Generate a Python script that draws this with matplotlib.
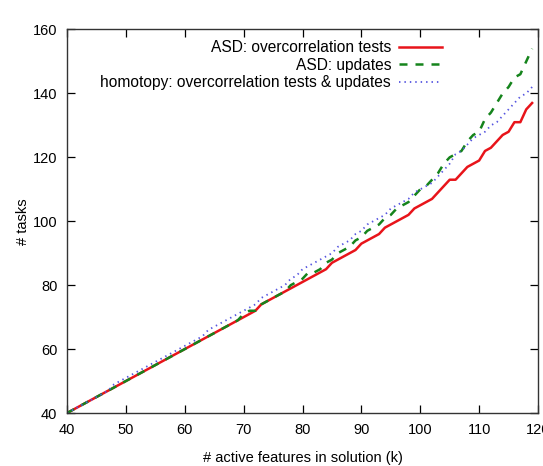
import matplotlib
matplotlib.use("Agg")
import matplotlib.pyplot as plt

plt.rcParams.update({
    "font.family": ["Liberation Sans", "DejaVu Sans"],
    "font.size": 10.5,
})

# number of active features k
k = list(range(40, 120))

# ASD: overcorrelation tests
asd_tests = [40, 41, 42, 43, 44, 45, 46, 47, 48, 49,
             50, 51, 52, 53, 54, 55, 56, 57, 58, 59,
             60, 61, 62, 63, 64, 65, 66, 67, 68, 69,
             70, 71, 72, 74, 75, 76, 77, 78, 79, 80,
             81, 82, 83, 84, 85, 87, 88, 89, 90, 91,
             93, 94, 95, 96, 98, 99, 100, 101, 102, 104,
             105, 106, 107, 109, 111, 113, 113, 115, 117, 118,
             119, 122, 123, 125, 127, 128, 131, 131, 135, 137]

# ASD: updates
asd_updates = [40, 41, 42, 43, 44, 45, 46, 47, 48, 49,
               50, 51, 52, 53, 54, 55, 56, 57, 58, 59,
               60, 61, 62, 63, 64, 65, 66, 67, 68, 69,
               71, 72, 72, 74, 75, 76, 77, 78, 80, 81,
               82, 84, 84, 85, 87, 88, 90, 91, 92, 94,
               95, 97, 98, 99, 101, 102, 104, 105, 106, 108,
               110, 111, 113, 115, 118, 120, 121, 122, 125, 127,
               128, 132, 134, 137, 140, 142, 145, 146, 150, 154]

# homotopy: overcorrelation tests & updates
homotopy = [40, 41, 42, 43, 44, 45, 46, 47, 49, 50,
            51, 52, 53, 54, 55, 56, 57, 58, 59, 60,
            61, 62, 63, 64, 66, 67, 68, 69, 70, 71,
            72, 73, 74, 76, 77, 78, 79, 80, 82, 83,
            85, 86, 87, 88, 89, 90, 92, 93, 94, 96,
            97, 99, 100, 101, 102, 104, 105, 106, 107, 109,
            110, 111, 112, 114, 116, 118, 121, 122, 124, 126,
            127, 128, 130, 131, 133, 135, 137, 139, 140, 142]

fig = plt.figure(figsize=(5.43, 4.66), dpi=100)
ax = fig.add_axes([0.1234, 0.1137, 0.8674, 0.823])

ax.plot(k, asd_tests, color="#e8141a", lw=1.8, label="ASD: overcorrelation tests")
ax.plot(k, asd_updates, color="#15841c", lw=1.8, ls=(0, (3.2, 3.2)), label="ASD: updates")
ax.plot(k, homotopy, color="#5555e0", lw=1.3, ls=(0, (0.8, 2.2)),
        label="homotopy: overcorrelation tests & updates")

ax.set_xlim(40, 120)
ax.set_ylim(40, 160)
ax.set_xticks(range(40, 121, 10))
ax.set_yticks(range(40, 161, 20))
ax.tick_params(direction="in", top=True, right=True, length=6, width=0.9, pad=7)
for s in ax.spines.values():
    s.set_linewidth(1.0)
    s.set_color("#333333")

ax.set_xlabel("# active features in solution (k)", labelpad=10)
ax.set_ylabel("# tasks", labelpad=2)

ax.legend(loc="upper right", bbox_to_anchor=(0.82, 1.0), frameon=False,
          markerfirst=False, handlelength=2.8, handletextpad=0.5,
          labelspacing=0.16, borderaxespad=0.3, fontsize=11.2)

fig.savefig("out.png", dpi=100)
